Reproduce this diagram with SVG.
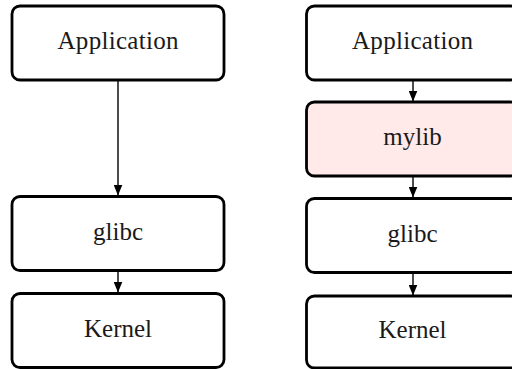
<svg xmlns="http://www.w3.org/2000/svg" width="512" height="369" viewBox="0 0 512 369">
<style>
.box{fill:#ffffff;stroke:#000;stroke-width:2.8}
.pink{fill:#ffe9e9}
.lbl{font-family:"Liberation Serif","DejaVu Serif",serif;font-size:25px;fill:#1a1a1a;text-anchor:middle}
.conn{stroke:#000;stroke-width:1.4;fill:none;marker-end:url(#ah)}
</style>
<defs>
<marker id="ah" markerWidth="11" markerHeight="9" refX="10.5" refY="4.5" orient="auto" markerUnits="userSpaceOnUse" viewBox="0 0 11 9">
<path d="M0,0 L11,4.5 L0,9 z" fill="#000"/>
</marker>
</defs>
<rect width="512" height="369" fill="#fff"/>
<g id="connectors">
<line class="conn" x1="118" y1="80" x2="118" y2="195"/>
<line class="conn" x1="118" y1="271" x2="118" y2="292"/>
<line class="conn" x1="413" y1="80" x2="413" y2="101"/>
<line class="conn" x1="413" y1="176" x2="413" y2="197"/>
<line class="conn" x1="413" y1="272.5" x2="413" y2="295"/>
</g>
<g id="app-left"><rect class="box" x="12" y="6" width="212" height="74" rx="8"/><text class="lbl" x="118" y="49" textLength="121" lengthAdjust="spacing">Application</text></g>
<g id="glibc-left"><rect class="box" x="12" y="196.5" width="212" height="74" rx="8"/><text class="lbl" x="118" y="239.5">glibc</text></g>
<g id="kernel-left"><rect class="box" x="12" y="293.5" width="212" height="74" rx="8"/><text class="lbl" x="118" y="336.5">Kernel</text></g>
<g id="app-right"><rect class="box" x="306.5" y="6" width="212" height="74" rx="8"/><text class="lbl" x="412.5" y="49" textLength="121" lengthAdjust="spacing">Application</text></g>
<g id="mylib-right"><rect class="box pink" x="306.5" y="102" width="212" height="74" rx="8"/><text class="lbl" x="412.5" y="145">mylib</text></g>
<g id="glibc-right"><rect class="box" x="306.5" y="198.5" width="212" height="74" rx="8"/><text class="lbl" x="412.5" y="241.5">glibc</text></g>
<g id="kernel-right"><rect class="box" x="306.5" y="296" width="212" height="72" rx="8"/><text class="lbl" x="412.5" y="338">Kernel</text></g>
</svg>
